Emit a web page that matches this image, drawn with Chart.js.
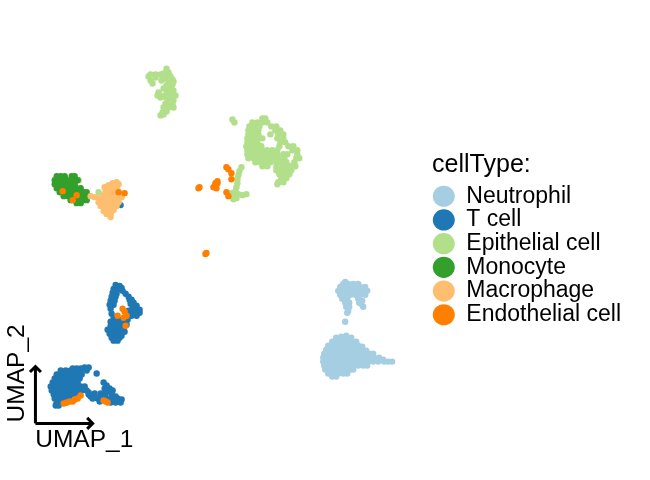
<!DOCTYPE html>
<html>
<head>
<meta charset="utf-8">
<title>UMAP cellType</title>
<script src="https://cdn.jsdelivr.net/npm/chart.js@4/dist/chart.umd.min.js"></script>
<style>
  html, body { margin: 0; padding: 0; background: #fff; }
  #wrap { width: 650px; height: 480px; }
</style>
</head>
<body>
<div id="wrap"><canvas id="umap" width="650" height="480"></canvas></div>
<script>
// values, one [UMAP_1, UMAP_2] pair per cell
const neutrophil = [
  [34.5,28.2],[34.3,28.4],[34.8,28.4],[35.3,28.4],[35.8,28.4],
  [34,28.7],[34.5,28.7],[35,28.7],[35.5,28.7],[36,28.7],[36.5,28.7],
  [33.8,29.1],[34.3,29.1],[34.8,29.1],[35.3,29.1],[35.8,29.1],[36.3,29.1],[36.7,29.1],
  [34,29.5],[34.5,29.5],[35,29.5],[35.5,29.5],[36,29.5],[36.5,29.5],
  [34.2,29.9],[34.7,29.9],[35.8,29.9],[36.2,30.1],[34.5,30.3],[34.9,30.3],[35.9,30.3],[36.1,30.4],
  [34.6,30.7],[34.9,30.7],[36.3,30.7],[34.8,31.1],[34.7,31.3],[34.5,32.2],
  [34.6,33.6],[34.1,33.7],[33.6,33.8],[34.1,33.8],[34.6,33.8],[35.1,33.8],
  [33.2,34.2],[33.7,34.2],[34.2,34.2],[34.7,34.2],[35.2,34.2],[35.6,34.2],
  [32.8,34.6],[33.3,34.6],[33.8,34.6],[34.3,34.6],[34.8,34.6],[35.3,34.6],[35.8,34.6],[36.2,34.7],
  [32.6,35],[33.1,35],[33.6,35],[34.1,35],[34.6,35],[35.1,35],[35.6,35],[36.1,35],[36.6,35.1],
  [32.4,35.4],[32.9,35.4],[33.4,35.4],[33.9,35.4],[34.4,35.4],[34.9,35.4],[35.4,35.4],[35.9,35.4],[36.4,35.4],[36.9,35.4],[37.3,35.4],
  [32.3,35.8],[32.8,35.8],[33.3,35.8],[33.8,35.8],[34.3,35.8],[34.8,35.8],[35.3,35.8],[35.8,35.8],[36.3,35.8],[36.8,35.8],[37.4,35.8],[37.9,35.8],[38.3,36],
  [32.3,36.2],[32.8,36.2],[33.3,36.2],[33.8,36.2],[34.3,36.2],[34.8,36.2],[35.3,36.2],[35.8,36.2],[36.3,36.2],[36.8,36.2],[37.3,36.2],[37.8,36.2],[38.4,36.2],[38.8,36.2],[39.2,36.2],
  [32.4,36.6],[32.9,36.6],[33.4,36.6],[33.9,36.6],[34.4,36.6],[34.9,36.6],[35.4,36.6],[35.8,36.6],[36.3,36.6],[36.7,36.6],
  [32.5,37],[33,37],[33.5,37],[34,37],[34.5,37],[35,37],[35.3,37],
  [32.8,37.4],[33.3,37.4],[33.8,37.4],[34.3,37.4],[34.7,37.4],[33.2,37.7],[33.6,37.7]
];
const tCell = [
  [11.5,28.5],[11.9,28.6],[11.3,28.9],[11.7,29],[12.2,29.1],[11.2,29.3],[11.6,29.4],[12.5,29.4],
  [12.1,28.8],[11.5,29.7],[11.3,30.5],[12.9,30],[13.4,30.6],[13.9,31],[13.5,31.2],[12.9,31.5],
  [11.1,29.7],[12.8,29.7],[11,30.1],[11.4,30.1],[13.1,30],[13.3,30.3],[10.9,30.5],[13,30.4],[13.6,30.6],
  [13.2,30.8],[13.7,31],[11,30.9],[13.3,31.2],[13.9,31.3],[12.8,31.1],[13.6,31.6],[13.1,31.6],[12.7,31.7],
  [11.1,31.4],[11.3,31.8],[11,32.2],[11.4,32.2],[11.8,32.1],[12.2,32],[12.7,32],
  [11,32.6],[11.4,32.6],[11.8,32.5],[12.2,32.4],[12.6,32.5],[10.7,33],[11.1,33],[11.5,33],[11.9,32.9],[12.3,32.9],
  [10.9,33.4],[11.3,33.4],[11.7,33.4],[12.1,33.3],[12.4,33.2],[11.1,33.8],[11.5,33.8],[11.9,33.8],[11.3,34.1],[11.7,34.1],[12.1,33.6],
  [8.4,36.8],[8.8,36.8],[7.2,36.9],[7.6,36.9],[8,36.9],[8.6,37.1],
  [6,37.1],[6.5,37.1],[7,37.1],[7.5,37.1],[8,37.1],
  [5.6,37.5],[6.1,37.5],[6.6,37.5],[7.1,37.5],[7.6,37.5],[8.1,37.5],[9.6,37.4],
  [5.4,37.9],[5.9,37.9],[6.4,37.9],[6.9,37.9],[7.4,37.9],[7.9,37.9],
  [5.2,38.3],[5.7,38.3],[6.2,38.3],[6.7,38.3],[7.2,38.3],[7.7,38.3],[10.3,38.3],
  [5,38.7],[5.5,38.7],[6,38.7],[6.5,38.7],[7,38.7],[7.5,38.7],[8,38.7],[8.4,38.7],[10.6,38.6],
  [5.1,39.1],[5.6,39.1],[6.1,39.1],[6.6,39.1],[7.1,39.1],[7.6,39.1],[8.1,39.1],[8.6,39.1],[10.4,38.9],[10.8,39.1],
  [5.3,39.5],[5.8,39.5],[6.3,39.5],[6.8,39.5],[7.3,39.5],[7.8,39.5],[8.8,39.5],[9.4,39.4],[10,39.4],[10.5,39.4],[11.1,39.4],[11.5,39.7],
  [8.8,39.3],[9,39.7],[9.4,39.8],[8.2,38.9],[10.9,38.9],[11.2,39.1],[10,39.7],
  [5.4,39.9],[5.9,39.9],[6.4,39.9],[6.9,39.9],[7.4,39.9],[9.2,39.9],[9.7,39.9],[10.2,39.9],[10.7,39.9],[11.2,39.9],[11.7,39.9],[12.1,40],
  [5.6,40.3],[6,40.3],[6.5,40.3],[9.9,40.2],[11,40.3],[11.5,40.3],[12,40.3],[5.5,40.6],[5.8,40.6],
  [12,20.5]
];
const epithelial = [
  [16.6,6.8],[16.8,7.2],[16.3,7.3],[16,7.4],[15.5,7.4],[15,7.4],[14.8,7.6],[15,8],[15.2,8.3],
  [16.9,7.5],[16.4,7.6],[17.3,8.1],[16.6,8.5],[17,8.7],[15.5,7.7],[15.9,9.4],[16.3,9.6],[17,9.5],[16.6,10.6],[16.6,11.1],[17.2,10.4],
  [17,7.6],[16.5,7.8],[17.2,7.9],[16.1,8],[16.8,8.2],[17.2,8.4],[16.3,8.8],[16.7,8.8],
  [15.8,9.2],[16,9.7],[15.7,9.5],[17,9.1],[17.3,9],[17.5,9.5],[17.2,9.8],[17.3,10],[16.6,9.3],
  [16.7,9.9],[16.5,10.3],[16.9,10.4],[16.3,10.7],[17.3,10.7],[16.8,10.7],[16.5,11],[16.2,11.2],[16,11.5],[16.3,11.4],
  [23.2,11.9],[23.4,12.2],
  [26.2,11.8],[26.5,11.8],[25.2,12.2],[25.7,12.2],[26.2,12.2],[26.7,12.2],
  [24.9,12.6],[25.4,12.6],[25.9,12.6],[27.1,12.6],[27.6,12.6],
  [24.8,13],[25.3,13],[25.8,13],[27.5,13],[28,13],
  [24.8,13.4],[25.3,13.4],[25.8,13.4],[27,13.4],[27.8,13.4],[28.3,13.4],
  [24.7,13.8],[25.2,13.8],[25.7,13.8],[26.2,13.8],[27.7,13.8],[28.3,13.8],
  [24.7,14.2],[25.2,14.2],[25.7,14.2],[28,14.2],[28.5,14.2],
  [24.6,14.6],[25.1,14.6],[25.6,14.6],[26.1,14.6],[27.9,14.6],[28.8,14.6],[29.3,14.6],
  [24.7,15],[25.2,15],[25.7,15],[26.2,15],[26.7,15],[27.2,15],[27.7,15],[29.2,15],[29.7,15],
  [24.7,15.4],[25.2,15.4],[25.7,15.4],[26.2,15.4],[26.7,15.4],[27.2,15.4],[27.7,15.4],[28.3,15.4],[28.7,15.4],[29.7,15.4],
  [24.8,15.8],[25.3,15.8],[25.8,15.8],[26.3,15.8],[26.8,15.8],[27.3,15.8],[27.8,15.8],[28.4,15.8],[29.6,15.8],[29.9,15.8],
  [25.5,16.2],[26,16.2],[26.5,16.2],[27,16.2],[27.6,16.2],[28.1,16.2],[28.6,16.2],[29.4,16.2],
  [26.2,16.6],[26.7,16.6],[27.6,16.6],[28.2,16.6],[28.7,16.6],[29,16.6],[29.5,16.6],
  [27.6,17],[28.1,17],[28.6,17],[29.1,17],[27.9,17.4],[28.4,17.4],[28.9,17.4],
  [28.1,17.8],[28.6,17.8],[27.8,18.2],[28.3,18.2],[27.7,18.4],
  [24.1,16.7],[23.9,17.1],[23.8,17.5],[23.7,17.9],[23.7,18.3],[23.6,18.7],[23.5,19.1],
  [23.1,19.3],[23.4,19.5],[23.8,19.4],[24.2,19.5],[24.6,19.4],[23.3,19.9],[23.6,19.8],
  [7.8,18],[9.8,19.2]
];
const monocyte = [
  [5.6,17.6],[6,17.6],[6.4,17.6],[7.1,17.6],[7.4,17.6],
  [5.4,18],[5.8,18],[6.2,18],[6.6,18],[7,18],[7.4,18],[7.7,18],
  [5.4,18.4],[5.8,18.4],[6.2,18.4],[6.6,18.4],[7,18.4],[7.4,18.4],
  [5.6,18.8],[6,18.8],[6.4,18.8],[6.8,18.8],[7.2,18.8],[7.6,18.8],[8,18.8],
  [5.9,19.2],[6.3,19.2],[6.7,19.2],[7.1,19.2],[7.5,19.2],[7.9,19.2],[8.3,19.2],[8.6,19.2],
  [6.3,19.6],[6.7,19.6],[7.1,19.6],[7.5,19.6],[7.9,19.6],[8.3,19.6],[8.7,19.6],
  [7,20],[7.4,20],[7.8,20],[8.2,20],[8.6,20],[7.6,20.3],[8,20.3]
];
const macrophage = [
  [11.6,18.2],[11.2,18.3],[10.8,18.5],[11.8,18.4],[10.4,18.7],[10.8,18.8],[11.2,18.7],[11.6,18.7],
  [10.5,19.1],[10.9,19.1],[11.3,19.1],[11.7,19.1],[10.3,19.5],[10.7,19.5],[11.1,19.5],[11.5,19.5],[11.9,19.5],
  [9,19.6],[9.4,19.7],[9.8,19.8],[10.2,19.9],[10.6,19.9],[11,19.9],[11.4,19.9],[11.8,19.8],[12.1,19.7],
  [9.8,20.2],[10.2,20.3],[10.6,20.3],[11,20.3],[11.4,20.3],[11.8,20.2],
  [10,20.6],[10.4,20.7],[10.8,20.7],[11.2,20.7],[11.6,20.6],
  [10.3,21.1],[10.7,21.1],[11.1,21.1],[11.3,21],[10.6,21.4],[11,21.4],[11,21.7]
];
const endothelial = [
  [12.2,30.9],[12.4,31.2],[11.7,31.6],[12.3,31.8],[12.6,31.6],[12.5,32.6],
  [6.3,40.4],[6.6,40.3],[6.9,40.2],[7.2,40.2],[7.4,40],[7.7,39.9],[8,39.6],[10.3,40.1],[10.5,40.2],[10.7,40.3],
  [22.6,16.7],[22.8,16.9],[23.1,17.3],[23.1,17.9],[21.7,18.1],[21.5,18.5],[21.3,18.7],[21.6,18.8],[21.7,18.3],[21.5,18.3],
  [19.8,18.8],[19.9,18.7],[22.6,19.2],[22.8,19.6],[20.6,25.3],[20.5,25.4],
  [6.2,19.1],[7.6,19.5],[7.2,20],[11.8,19.2],[12.4,19.3]
];

const cellTypes = ["Neutrophil", "T cell", "Epithelial cell", "Monocyte", "Macrophage", "Endothelial cell"];
const cellColors = ["#A6CEE3", "#1F78B4", "#B2DF8A", "#33A02C", "#FDBF6F", "#FF7F00"];
const cellValues = [neutrophil, tCell, epithelial, monocyte, macrophage, endothelial];

// the small axis arrows in the lower left corner
const arrowOne = [[3.47,42.4],[9.2,42.4]];
const arrowOneHead = [[8.65,41.85],[9.2,42.4],[8.65,42.95]];
const arrowTwo = [[3.47,42.4],[3.47,36.7]];
const arrowTwoHead = [[2.92,37.25],[3.47,36.7],[4.02,37.25]];

const FONT = '"Liberation Sans", Arial, sans-serif';

function toPoints(list) {
  return list.map((p) => ({ x: p[0], y: p[1] }));
}

function arrowLine(list) {
  return {
    type: "line",
    data: toPoints(list),
    borderColor: "#000",
    borderWidth: 3,
    pointRadius: 0,
    fill: false,
    order: 0,
    isArrow: true,
  };
}

const cellSets = cellTypes.map((name, i) => ({
  type: "scatter",
  label: name,
  data: toPoints(cellValues[i]),
  backgroundColor: cellColors[i],
  borderColor: cellColors[i],
  pointStyle: "circle",
  pointRadius: 3.2,
  pointBorderWidth: 0,
  order: cellTypes.length - i,
}));

// UMAP_1 / UMAP_2 next to the arrows
const axisNames = {
  id: "axisNames",
  afterDraw(chart) {
    const ctx = chart.ctx;
    const x = chart.scales.x;
    const y = chart.scales.y;
    ctx.save();
    ctx.fillStyle = "#000";
    ctx.font = "24.5px " + FONT;
    ctx.textAlign = "left";
    ctx.textBaseline = "alphabetic";
    ctx.fillText("UMAP_1", x.getPixelForValue(3.45), y.getPixelForValue(44.8));
    ctx.translate(x.getPixelForValue(2.35), y.getPixelForValue(42.3));
    ctx.rotate(-Math.PI / 2);
    ctx.fillText("UMAP_2", 0, 0);
    ctx.restore();
  },
};

new Chart(document.getElementById("umap"), {
  data: {
    datasets: [
      ...cellSets,
      arrowLine(arrowOne),
      arrowLine(arrowOneHead),
      arrowLine(arrowTwo),
      arrowLine(arrowTwoHead),
    ],
  },
  options: {
    responsive: false,
    animation: false,
    layout: { padding: { right: 19 } },
    scales: {
      x: { type: "linear", display: false, min: 0.32, max: 43.2 },
      y: { type: "linear", display: false, min: 0.32, max: 47.68, reverse: true },
    },
    plugins: {
      tooltip: { enabled: false },
      legend: {
        position: "right",
        align: "center",
        title: {
          display: true,
          text: "cellType:",
          color: "#000",
          font: { family: FONT, size: 25 },
          position: "start",
          padding: { top: 0, bottom: 1 },
        },
        labels: {
          color: "#000",
          font: { family: FONT, size: 23, lineHeight: 1 },
          usePointStyle: true,
          pointStyleWidth: 22,
          boxHeight: 15,
          padding: 0.7,
          filter: (item, data) => !data.datasets[item.datasetIndex].isArrow,
          sort: (a, b) => a.datasetIndex - b.datasetIndex,
        },
      },
    },
  },
  plugins: [axisNames],
});
</script>
</body>
</html>
